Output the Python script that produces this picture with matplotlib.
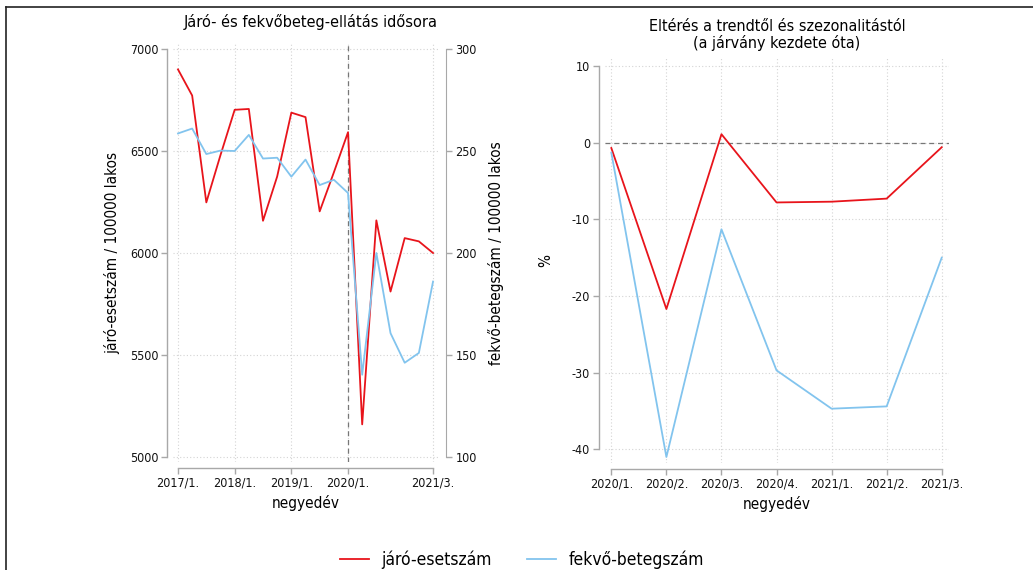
import matplotlib
matplotlib.use("Agg")
import matplotlib.pyplot as plt
from matplotlib.lines import Line2D

# negyedéves idősor, 2017/1. - 2021/3.
quarters = ["2017/1.", "2017/2.", "2017/3.", "2017/4.",
            "2018/1.", "2018/2.", "2018/3.", "2018/4.",
            "2019/1.", "2019/2.", "2019/3.", "2019/4.",
            "2020/1.", "2020/2.", "2020/3.", "2020/4.",
            "2021/1.", "2021/2.", "2021/3."]
jaro = [6900, 6772, 6248, 6480, 6702, 6706, 6158, 6375, 6688, 6666,
        6204, 6395, 6592, 5160, 6160, 5811, 6073, 6057, 6000]
fekvo = [258.6, 261.0, 248.5, 250.2, 250.0, 257.9, 246.3, 246.7, 237.4, 245.8,
         233.3, 235.9, 229.4, 140.3, 200.0, 160.7, 146.2, 151.0, 186.0]
left_ticks = ["2017/1.", "2018/1.", "2019/1.", "2020/1.", "2021/3."]

# eltérés a trendtől és szezonalitástól
dev_quarters = ["2020/1.", "2020/2.", "2020/3.", "2020/4.", "2021/1.", "2021/2.", "2021/3."]
dev_jaro = [-0.7, -21.7, 1.1, -7.8, -7.7, -7.3, -0.6]
dev_fekvo = [-1.3, -41.0, -11.3, -29.7, -34.7, -34.4, -15.0]

RED = "#e8141b"
BLUE = "#82c4ee"
SPINE = "#a8a8a8"
GRID = "#d4d4d4"

plt.rcParams["font.family"] = ["DejaVu Sans"]
plt.rcParams["font.stretch"] = "condensed"
plt.rcParams["font.size"] = 9
plt.rcParams["axes.unicode_minus"] = False

TICK = dict(colors=SPINE, labelcolor="#111111", length=4, width=1.0, pad=2.5, labelsize=9)


def style_axis(ax, spines):
    for s in ["top", "right", "left", "bottom"]:
        ax.spines[s].set_visible(s in spines)
    for s in spines:
        ax.spines[s].set_color(SPINE)
        ax.spines[s].set_linewidth(1.0)
    ax.tick_params(**TICK)
    ax.grid(True, color=GRID, linestyle=(0, (1, 2)), linewidth=0.8)


fig = plt.figure(figsize=(10.33, 5.70), dpi=100)

# bal oldali ábra
ax1 = fig.add_axes([0.1675, 0.1893, 0.2565, 0.7337])
x = list(range(len(quarters)))
ax1.plot(x, jaro, color=RED, linewidth=1.3, zorder=3)
ax1.set_xlim(-0.35, 18.35)
ax1.set_ylim(4975, 7025)
ax1.set_yticks([5000, 5500, 6000, 6500, 7000])
ax1.set_xticks([quarters.index(q) for q in left_ticks])
ax1.set_xticklabels(left_ticks)
style_axis(ax1, ["left", "bottom"])
ax1.spines["left"].set_position(("outward", 4))
ax1.spines["bottom"].set_position(("outward", 4))
ax1.spines["left"].set_bounds(5000, 7000)
ax1.spines["bottom"].set_bounds(0, 18)
ax1.axvline(12, color="#777777", linestyle=(0, (4, 3)), linewidth=0.9, zorder=2)
ax1.set_ylabel("járó-esetszám / 100000 lakos", fontsize=11, labelpad=7)
ax1.set_xlabel("negyedév", fontsize=11, labelpad=4)
ax1.set_title("Járó- és fekvőbeteg-ellátás idősora", fontsize=11.7, pad=12, x=0.518)

ax2 = ax1.twinx()
ax2.plot(x, fekvo, color=BLUE, linewidth=1.3, zorder=3)
ax2.set_ylim(97.5, 302.5)
ax2.set_yticks([100, 150, 200, 250, 300])
for s in ["top", "left", "bottom"]:
    ax2.spines[s].set_visible(False)
ax2.spines["right"].set_color(SPINE)
ax2.spines["right"].set_position(("outward", 6))
ax2.spines["right"].set_bounds(100, 300)
ax2.tick_params(**TICK)
ax2.set_ylabel("fekvő-betegszám / 100000 lakos", fontsize=11, labelpad=8)

# jobb oldali ábra
ax3 = fig.add_axes([0.5854, 0.1875, 0.3337, 0.7102])
xd = list(range(len(dev_quarters)))
ax3.plot(xd, dev_jaro, color=RED, linewidth=1.3, zorder=3, label="járó-esetszám")
ax3.plot(xd, dev_fekvo, color=BLUE, linewidth=1.3, zorder=3, label="fekvő-betegszám")
ax3.axhline(0, color="#777777", linestyle=(0, (4, 3)), linewidth=0.9, zorder=2)
ax3.set_xlim(-0.12, 6.14)
ax3.set_ylim(-41.8, 11.0)
ax3.set_yticks([-40, -30, -20, -10, 0, 10])
ax3.set_xticks(xd)
ax3.set_xticklabels(dev_quarters)
style_axis(ax3, ["left", "bottom"])
ax3.spines["left"].set_position(("outward", 4))
ax3.spines["bottom"].set_position(("outward", 4))
ax3.spines["left"].set_bounds(-40, 10)
ax3.spines["bottom"].set_bounds(0, 6)
ax3.set_ylabel("%", fontsize=11, labelpad=13)
ax3.set_xlabel("negyedév", fontsize=11, labelpad=4)
ax3.set_title("Eltérés a trendtől és szezonalitástól\n(a járvány kezdete óta)",
              fontsize=11.5, pad=7.5, linespacing=1.05)

handles, labels = ax3.get_legend_handles_labels()
fig.legend(handles, labels, loc="center", bbox_to_anchor=(0.505, 0.0175), ncol=2,
           frameon=False, fontsize=12.5, handlelength=1.7, columnspacing=2.0,
           handletextpad=0.7, borderpad=0.0)

# keret
fig.add_artist(Line2D([0.006, 1.0], [0.988, 0.988], color="#222222", linewidth=1.2,
                      transform=fig.transFigure))
fig.add_artist(Line2D([0.006, 0.006], [0.0, 0.988], color="#222222", linewidth=1.2,
                      transform=fig.transFigure))

fig.savefig("out.png", dpi=100)
